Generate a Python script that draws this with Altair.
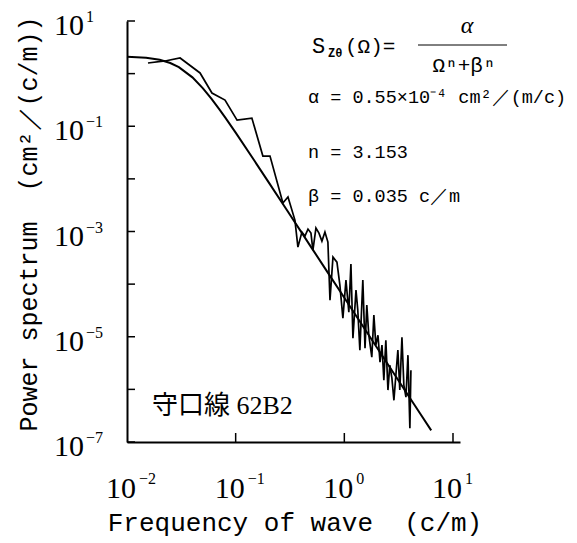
import altair as alt
import pandas as pd

# ---- data ----
fit_freq = [0.01, 0.015, 0.02, 0.025, 0.03, 0.04, 0.05, 0.06, 0.07, 0.08, 0.1, 0.15,
            0.2, 0.3, 0.5, 0.7, 1.0, 1.5, 2.0, 3.0, 4.0, 5.0, 6.3]
fit_power = [2.10, 2.00, 1.83, 1.59, 1.33, 0.849, 0.525, 0.332, 0.216, 0.147, 0.0755, 0.0216,
             8.76e-3, 2.45e-3, 4.89e-4, 1.69e-4, 5.5e-5, 1.53e-5, 6.19e-6, 1.72e-6, 6.95e-7,
             3.44e-7, 1.66e-7]

meas_freq = [0.0156, 0.0224, 0.0308, 0.0470, 0.0605, 0.0798, 0.103, 0.141, 0.178, 0.207,
             0.272, 0.303, 0.351, 0.374, 0.407, 0.434, 0.463, 0.493, 0.514, 0.548,
             0.584, 0.622, 0.663, 0.706, 0.738, 0.786, 0.855, 0.910, 0.970, 1.035,
             1.10, 1.15, 1.20, 1.28, 1.33, 1.39, 1.48, 1.55, 1.61, 1.68,
             1.79, 1.87, 1.95, 2.04, 2.13, 2.22, 2.31, 2.41, 2.52, 2.62,
             2.74, 2.86, 2.98, 3.11, 3.24, 3.39, 3.53, 3.69, 3.85, 4.01, 4.10]
meas_power = [1.59, 1.74, 1.98, 1.03, 0.428, 0.315, 0.131, 0.143, 0.0271, 0.0271,
              3.47e-3, 4.51e-3, 1.65e-3, 5.05e-4, 9.75e-4, 8.18e-4, 1.11e-3, 9.33e-4, 4.43e-4, 1.16e-3,
              9.33e-4, 6.56e-4, 9.75e-4, 6.28e-4, 4.97e-5, 3.26e-4, 2.62e-4, 9.57e-5, 2.26e-5, 1.19e-4,
              2.94e-5, 2.40e-4, 9.4e-6, 7.69e-5, 3.21e-5, 5.56e-6, 1.19e-4, 6.07e-6, 3.99e-5, 1.07e-5,
              4.09e-6, 2.58e-5, 6.92e-6, 1.07e-5, 3.29e-6, 6.92e-6, 1.50e-6, 8.6e-6, 9.7e-7, 2.88e-6,
              1.63e-6, 6.2e-7, 1.86e-6, 5.56e-6, 9.7e-7, 9.8e-6, 1.20e-6, 7.1e-7, 4.47e-6, 1.83e-7, 2.32e-6]

y_tick_vals = [1e1, 1e0, 1e-1, 1e-2, 1e-3, 1e-4, 1e-5, 1e-6, 1e-7]
y_label_vals = [1e1, 1e-1, 1e-3, 1e-5, 1e-7]
y_label_exps = ["1", "\u22121", "\u22123", "\u22125", "\u22127"]
x_tick_vals = [0.1, 1.0, 10.0]
x_label_vals = [0.01, 0.1, 1.0, 10.0]
x_label_exps = ["\u22122", "\u22121", "0", "1"]

NB = "\u00a0"
x_title = "Frequency of wave" + NB + NB + "(c/m)"
y_title = "Power spectrum" + NB + NB + "(cm\u00b2\uff0f(c/m))"
eq_params = ["\u03b1" + NB + "=" + NB + "0.55\u00d710\u207b\u2074" + NB + "cm\u00b2\uff0f(m/c)",
             "n" + NB + "=" + NB + "3.153",
             "\u03b2" + NB + "=" + NB + "0.035" + NB + "c\uff0fm"]
line_label = "守口線" + NB + "62B2"

# ---- layout ----
W, H = 333, 421
MONO = "Liberation Mono"
SERIF = "Liberation Serif"

xs = alt.Scale(type="log", domain=[0.01, 11.6], nice=False)
ys = alt.Scale(type="log", domain=[1e-7, 10], nice=False)
ax = alt.Axis(title=None, labels=False, ticks=False, grid=False, domain=True,
              domainColor="black", domainWidth=2)


def X():
    return alt.X("f:Q", scale=xs, axis=ax)


def Y():
    return alt.Y("p:Q", scale=ys, axis=ax)


fit_df = pd.DataFrame({"f": fit_freq, "p": fit_power})
meas_df = pd.DataFrame({"f": meas_freq, "p": meas_power})

fit = alt.Chart(fit_df).mark_line(color="black", strokeWidth=2).encode(x=X(), y=Y())
meas = alt.Chart(meas_df).mark_line(color="black", strokeWidth=1.7).encode(x=X(), y=Y())

ytick = alt.Chart(pd.DataFrame({"p": y_tick_vals})).mark_rule(color="black", strokeWidth=1.5).encode(
    y=Y(), x=alt.value(0), x2=alt.value(8))
xtick = alt.Chart(pd.DataFrame({"f": x_tick_vals})).mark_rule(color="black", strokeWidth=1.5).encode(
    x=X(), y=alt.value(H), y2=alt.value(H - 9))

ylab_df = pd.DataFrame({"p": y_label_vals, "base": ["10"] * len(y_label_vals), "exp": y_label_exps})
ylab_base = alt.Chart(ylab_df).mark_text(align="right", baseline="alphabetic", dx=-43, dy=14,
                                         font=SERIF, fontSize=30, color="black").encode(
    y=Y(), x=alt.value(0), text="base:N")
ylab_exp = alt.Chart(ylab_df).mark_text(align="left", baseline="alphabetic", dx=-41, dy=1,
                                        font=SERIF, fontSize=16, color="black").encode(
    y=Y(), x=alt.value(0), text="exp:N")

xlab_df = pd.DataFrame({"f": x_label_vals, "base": ["10"] * len(x_label_vals), "exp": x_label_exps})
xlab_base = alt.Chart(xlab_df).mark_text(align="right", baseline="alphabetic", dx=9, dy=56,
                                         font=SERIF, fontSize=30, color="black").encode(
    x=X(), y=alt.value(H), text="base:N")
xlab_exp = alt.Chart(xlab_df).mark_text(align="left", baseline="alphabetic", dx=12, dy=42,
                                        font=SERIF, fontSize=16, color="black").encode(
    x=X(), y=alt.value(H), text="exp:N")

xtitle = alt.Chart(pd.DataFrame({"t": [x_title]})).mark_text(
    align="center", baseline="alphabetic", font=MONO, fontSize=26, color="black").encode(
    x=alt.value(168), y=alt.value(510), text="t:N")
ytitle = alt.Chart(pd.DataFrame({"t": [y_title]})).mark_text(
    align="center", baseline="middle", angle=270, font=MONO, fontSize=25, color="black").encode(
    x=alt.value(-98), y=alt.value(203), text="t:N")


def txt(s, x, y, size, font=MONO, align="left", style="normal", weight="normal"):
    return alt.Chart(pd.DataFrame({"t": [s]})).mark_text(
        align=align, baseline="alphabetic", font=font, fontSize=size, fontStyle=style,
        fontWeight=weight, color="black").encode(x=alt.value(x), y=alt.value(y), text="t:N")


eq_S = txt("S", 185, 32, 22)
eq_sub = txt("Z\u03b8", 201, 36, 12, weight="bold")
eq_rest = txt("(\u03a9)=", 218, 32, 21)
eq_num = txt("\u03b1", 340, 12, 24, font=SERIF, align="center", style="italic")
eq_den = txt("\u03a9\u207f+\u03b2\u207f", 337, 51, 21, align="center")
eq_bar = alt.Chart(pd.DataFrame({"a": [0]})).mark_rule(color="black", strokeWidth=1).encode(
    x=alt.value(291), x2=alt.value(380), y=alt.value(24))

eq_p1 = txt(eq_params[0], 181, 82, 18.5)
eq_p2 = txt(eq_params[1], 181, 137, 18.5)
eq_p3 = txt(eq_params[2], 181, 181, 18.5)

lbl = alt.Chart(pd.DataFrame({"t": [line_label]})).mark_text(
    align="left", baseline="alphabetic", font="Liberation Serif, Noto Sans CJK JP", fontSize=26,
    color="black").encode(x=alt.value(25), y=alt.value(393), text="t:N")

chart = alt.layer(
    fit, meas, ytick, xtick, ylab_base, ylab_exp, xlab_base, xlab_exp, xtitle, ytitle,
    eq_S, eq_sub, eq_rest, eq_num, eq_den, eq_bar, eq_p1, eq_p2, eq_p3, lbl
).properties(
    width=W, height=H,
    autosize=alt.AutoSizeParams(type="none"),
    padding={"left": 127, "top": 21, "right": 577 - 127 - W, "bottom": 543 - 21 - H},
    background="white",
).configure_view(stroke=None)

chart.save("out.html", embed_options={"renderer": "svg", "actions": False})
